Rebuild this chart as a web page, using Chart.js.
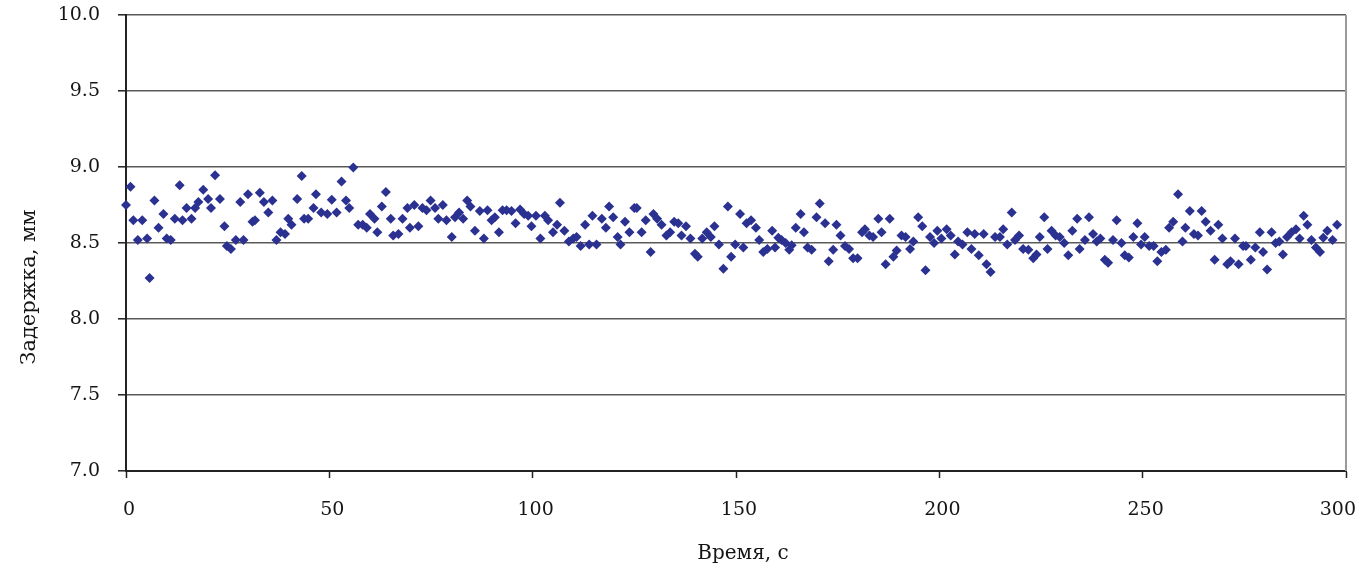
<!DOCTYPE html>
<html><head><meta charset="utf-8">
<script src="https://cdn.jsdelivr.net/npm/chart.js@4"></script>
<style>html,body{margin:0;padding:0;background:#fff;overflow:hidden}</style>
</head><body>
<canvas id="c" width="1359" height="565"></canvas>
<script>
const times = [0,1.1,1.8,2.9,4.0,5.2,5.8,7.0,8.0,9.2,10.0,11.0,12.0,13.2,13.9,14.9,16.1,17.0,17.8,19.0,20.2,20.9,21.9,23.1,24.2,24.8,25.8,27.0,28.1,28.9,30.0,31.1,31.7,32.9,33.9,35.0,36.0,37.0,38.0,39.1,39.9,40.7,42.1,43.2,43.8,44.8,46.1,46.7,48.0,49.5,50.6,51.8,53.0,54.1,54.9,55.9,57.1,58.2,59.2,60.0,61.1,61.8,62.9,63.9,65.1,65.7,67.0,68.0,69.2,69.8,70.9,71.9,72.9,73.9,74.9,76.0,76.8,77.9,78.8,80.1,80.9,81.9,82.9,83.9,84.7,85.8,87.0,88.0,88.9,89.9,90.7,91.7,92.6,93.6,94.8,95.8,96.9,97.9,98.9,99.7,100.8,101.9,103.0,103.8,105.0,106.0,106.7,107.8,108.9,110.0,110.8,111.8,112.9,113.9,114.7,115.7,117.0,118.0,118.8,119.8,120.9,121.6,122.7,123.8,125.0,125.6,126.8,127.8,129.0,129.7,130.6,131.7,132.9,133.8,134.8,135.8,136.6,137.7,138.8,139.9,140.6,141.7,142.8,143.8,144.7,145.8,146.9,148.0,148.8,149.8,151.0,151.8,152.6,153.7,154.9,155.7,156.7,157.7,158.9,159.6,160.4,161.2,162.2,163.1,163.7,164.7,165.9,166.7,167.6,168.6,169.8,170.6,171.9,172.8,173.9,174.7,175.7,176.8,177.8,178.8,179.9,181.0,181.7,182.8,183.7,185.0,185.8,186.8,187.8,188.7,189.5,190.7,191.7,192.8,193.6,194.8,195.8,196.6,197.7,198.7,199.5,200.5,201.8,202.8,203.8,204.6,205.7,206.9,207.9,208.7,209.7,210.9,211.6,212.6,213.7,214.9,215.7,216.7,217.8,218.6,219.6,220.6,221.9,223.1,223.9,224.7,225.8,226.6,227.6,228.6,229.6,230.7,231.7,232.7,233.9,234.5,235.8,236.8,237.8,238.7,239.6,240.7,241.5,242.7,243.6,244.8,245.6,246.6,247.7,248.7,249.6,250.5,251.6,252.7,253.6,254.6,255.7,256.5,257.5,258.7,259.8,260.5,261.6,262.6,263.6,264.5,265.5,266.7,267.7,268.6,269.6,270.8,271.6,272.7,273.6,274.7,275.4,276.6,277.7,278.8,279.6,280.6,281.7,282.7,283.6,284.5,285.5,286.6,287.7,288.6,289.6,290.5,291.5,292.6,293.6,294.4,295.4,296.7,297.8];
const delays = [8.75,8.87,8.65,8.52,8.65,8.53,8.27,8.78,8.60,8.69,8.53,8.52,8.66,8.88,8.65,8.73,8.66,8.73,8.77,8.85,8.79,8.73,8.945,8.79,8.61,8.48,8.46,8.52,8.77,8.52,8.82,8.64,8.65,8.83,8.77,8.70,8.78,8.52,8.57,8.56,8.66,8.62,8.79,8.94,8.66,8.66,8.73,8.82,8.70,8.69,8.785,8.70,8.905,8.78,8.73,8.996,8.62,8.62,8.60,8.69,8.66,8.57,8.74,8.835,8.66,8.55,8.56,8.66,8.73,8.60,8.75,8.61,8.73,8.715,8.78,8.73,8.66,8.75,8.65,8.54,8.67,8.70,8.66,8.78,8.74,8.58,8.71,8.53,8.715,8.65,8.67,8.57,8.715,8.715,8.71,8.63,8.72,8.69,8.68,8.61,8.68,8.53,8.68,8.65,8.57,8.62,8.765,8.58,8.51,8.53,8.54,8.48,8.62,8.49,8.68,8.49,8.66,8.60,8.74,8.67,8.54,8.49,8.64,8.57,8.73,8.73,8.57,8.65,8.44,8.69,8.66,8.62,8.55,8.57,8.64,8.63,8.55,8.61,8.53,8.43,8.41,8.53,8.57,8.54,8.61,8.49,8.33,8.74,8.41,8.49,8.69,8.47,8.63,8.65,8.60,8.52,8.44,8.46,8.58,8.47,8.535,8.52,8.50,8.455,8.485,8.60,8.69,8.57,8.47,8.455,8.67,8.76,8.63,8.38,8.455,8.62,8.55,8.48,8.46,8.40,8.40,8.57,8.59,8.55,8.54,8.66,8.57,8.36,8.66,8.41,8.45,8.55,8.54,8.46,8.51,8.67,8.61,8.32,8.54,8.50,8.58,8.53,8.59,8.55,8.425,8.51,8.49,8.57,8.46,8.56,8.42,8.56,8.36,8.31,8.54,8.54,8.59,8.49,8.70,8.52,8.55,8.46,8.455,8.40,8.425,8.54,8.67,8.46,8.58,8.55,8.54,8.50,8.42,8.58,8.66,8.46,8.52,8.67,8.56,8.51,8.53,8.39,8.37,8.52,8.65,8.50,8.42,8.405,8.54,8.63,8.49,8.54,8.48,8.48,8.38,8.44,8.455,8.60,8.64,8.82,8.51,8.60,8.71,8.56,8.55,8.71,8.64,8.58,8.39,8.62,8.53,8.36,8.38,8.53,8.36,8.48,8.48,8.39,8.47,8.57,8.44,8.325,8.57,8.50,8.51,8.425,8.54,8.57,8.59,8.53,8.68,8.62,8.52,8.47,8.44,8.535,8.58,8.52,8.62];
const xTicks = [0,50,100,150,200,250,300];
const yTicks = [7.0,7.5,8.0,8.5,9.0,9.5,10.0];
const xTitle = 'Время, с';
const yTitle = 'Задержка, мм';

const FONT = '"DejaVu Serif", serif';
const TEXT = '#151515';
const points = times.map((t, i) => ({x: t, y: delays[i]}));

const titlesPlugin = {
  id: 'titles',
  beforeDatasetsDraw(chart) {
    const {ctx, chartArea: a} = chart;
    ctx.save();
    ctx.strokeStyle = '#9a9a9a';
    ctx.lineWidth = 2;
    ctx.beginPath();
    ctx.moveTo(a.right, a.top);
    ctx.lineTo(a.right, a.bottom);
    ctx.stroke();
    ctx.restore();
  },
  afterDraw(chart) {
    const {ctx, chartArea: a} = chart;
    const xs = chart.scales.x;
    ctx.save();
    ctx.fillStyle = TEXT;
    // x tick labels, kept inside the canvas like the original
    ctx.font = '19px ' + FONT;
    ctx.textAlign = 'center';
    ctx.textBaseline = 'alphabetic';
    xTicks.forEach(v => {
      const label = String(v);
      const half = ctx.measureText(label).width / 2;
      let px = xs.getPixelForValue(v) + 3;
      px = Math.min(px, chart.width - 3 - half);
      ctx.fillText(label, px, 515);
    });
    ctx.font = '20px ' + FONT;
    ctx.fillText(xTitle, (a.left + a.right) / 2 + 7, 559);
    ctx.translate(35, 287);
    ctx.rotate(-Math.PI / 2);
    ctx.font = '21px ' + FONT;
    ctx.fillText(yTitle, 0, 0);
    ctx.restore();
  }
};

new Chart(document.getElementById('c'), {
  type: 'scatter',
  data: {
    datasets: [{
      data: points,
      pointStyle: 'rectRot',
      pointRadius: 5,
      pointHoverRadius: 5,
      pointBorderWidth: 0,
      backgroundColor: '#2B3190',
      borderColor: '#2B3190',
      clip: false
    }]
  },
  plugins: [titlesPlugin],
  options: {
    responsive: false,
    animation: false,
    devicePixelRatio: 1,
    layout: {padding: {top: 15, right: 13, left: 0, bottom: 0}},
    plugins: {legend: {display: false}, tooltip: {enabled: false}},
    scales: {
      x: {
        type: 'linear',
        min: 0, max: 300,
        afterBuildTicks(s) { s.ticks = xTicks.map(v => ({value: v})); },
        afterFit(s) { s.height = 94; s.paddingLeft = 0; s.paddingRight = 0; },
        grid: {drawOnChartArea: false, drawTicks: true, tickLength: 7, tickColor: '#222', tickWidth: 1.5},
        border: {display: true, color: '#222', width: 2},
        ticks: {display: false}
      },
      y: {
        type: 'linear',
        min: 7, max: 10,
        afterBuildTicks(s) { s.ticks = yTicks.map(v => ({value: v})); },
        afterFit(s) { s.width = 126; s.paddingTop = 0; s.paddingBottom = 0; },
        grid: {color: '#5a5a5a', lineWidth: 1.6, drawTicks: true, tickLength: 8, tickColor: '#222', tickWidth: 1.5},
        border: {display: true, color: '#222', width: 2},
        ticks: {color: TEXT, font: {family: FONT, size: 19}, padding: 18, callback: v => Number(v).toFixed(1)}
      }
    }
  }
});
</script>
</body></html>
